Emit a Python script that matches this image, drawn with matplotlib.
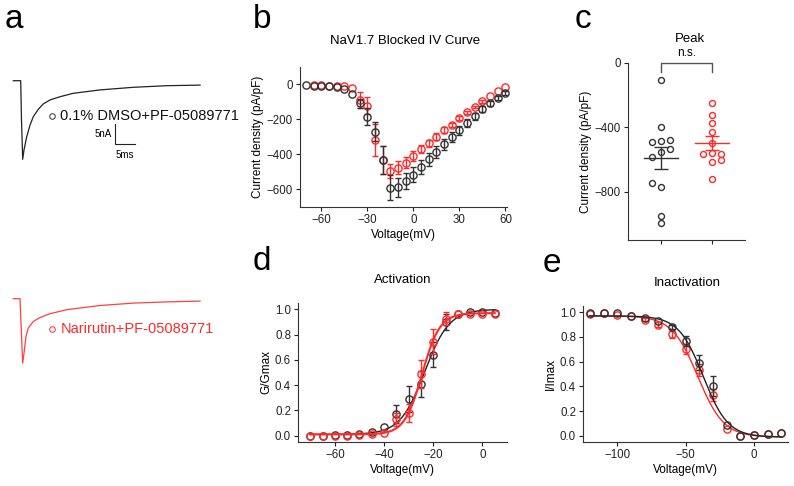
import numpy as np
import matplotlib
matplotlib.use('Agg')
import matplotlib.pyplot as plt

plt.rcParams['font.family'] = ['Liberation Sans', 'DejaVu Sans']
plt.rcParams['axes.linewidth'] = 0.8
plt.rcParams['axes.edgecolor'] = '#333333'

W, H = 794, 486
BLACK = '#333333'
RED = '#ff2a2a'

# ---- panel a: example traces (time ms, current nA)
trace_t_dmso = [0, 1.85, 2.05, 2.35, 2.68, 3.35, 4.18, 5.0, 6.25, 7.5, 9.2, 11.7, 15.0, 21.7, 30.0, 38.35, 46.7]
trace_i_dmso = [0, 0, -9.8, -19.65, -17.3, -14.0, -11.1, -9.0, -7.15, -5.8, -4.8, -4.0, -3.15, -2.3, -1.65, -1.25, -1.1]
trace_t_nar = [0, 1.68, 2.0, 2.35, 2.68, 3.18, 3.75, 5.0, 6.68, 9.2, 13.35, 21.7, 30.0, 38.35, 46.7]
trace_i_nar = [0, 0, -8.0, -16.1, -13.6, -9.4, -7.3, -5.7, -4.7, -3.75, -2.75, -1.7, -1.1, -0.8, -0.6]

# ---- panel b: IV curve (pA/pF)
iv_v = np.arange(-70, 61, 5)
iv_dmso = [-4, -6, -7, -8, -12, -25, -52, -108, -183, -270, -432, -590, -588, -553, -515,
           -470, -428, -385, -342, -300, -262, -220, -182, -142, -108, -77, -50]
iv_dmso_err = [0, 0, 0, 0, 0, 0, 0, 25, 50, 55, 80, 70, 55, 45, 45,
               40, 35, 35, 30, 28, 25, 22, 20, 18, 15, 12, 10]
iv_nar = [np.nan, -4, -4, -6, -6, -6, -19, -90, -121, -317, -433, -496, -475, -446, -410,
          -369, -337, -298, -260, -231, -192, -160, -129, -96, -67, -38, -17]
iv_nar_err = [0, 0, 0, 0, 0, 0, 0, 45, 50, 90, 80, 40, 35, 30, 30,
              25, 20, 18, 15, 12, 10, 10, 8, 8, 0, 0, 0]

# ---- panel c: peak current density per cell
peak_dmso = [-105, -395, -488, -484, -477, -535, -556, -585, -746, -771, -953, -994]
lane_dmso = [0, 0, -1, 0, 1, 1, 0, -1, -1, 0, 0, 0]
peak_nar = [-246, -322, -370, -428, -498, -560, -564, -564, -601, -616, -719]
lane_nar = [0, 0, 0, 0, 0, 0, -1, 1, 1, 0, 0]

# ---- panel d: activation
act_v = np.arange(-70, 6, 5)
act_dmso = [0.0, 0.0, 0.002, 0.005, 0.01, 0.03, 0.07, 0.17, 0.29, 0.41, 0.64, 0.90, 0.96, 0.975, 0.975, 0.97]
act_dmso_err = [0, 0, 0, 0, 0, 0, 0, 0.07, 0.10, 0.10, 0.10, 0.06, 0, 0, 0, 0]
act_nar = [0.0, 0.0, 0.0, 0.0, 0.005, 0.015, 0.025, 0.13, 0.18, 0.49, 0.745, 0.925, 0.96, 0.96, 0.96, 0.96]
act_nar_err = [0, 0, 0, 0, 0, 0, 0, 0.05, 0.07, 0.11, 0.10, 0.05, 0, 0, 0, 0]
act_fit_dmso = dict(bottom=0.01, top=1.0, vhalf=-23.5, k=5.0)
act_fit_nar = dict(bottom=0.01, top=0.97, vhalf=-24.5, k=3.6)

# ---- panel e: inactivation
inact_v = np.arange(-120, 21, 10)
inact_dmso = [0.997, 0.997, 0.99, 0.97, 0.954, 0.93, 0.88, 0.77, 0.59, 0.40, 0.09, 0.0, 0.008, 0.016, 0.02]
inact_dmso_err = [0, 0, 0, 0, 0, 0, 0.02, 0.04, 0.06, 0.08, 0, 0, 0, 0, 0]
inact_nar = [0.987, 0.99, 0.98, 0.97, 0.94, 0.90, 0.82, 0.70, 0.53, 0.33, 0.054, 0.0, 0.008, 0.016, 0.02]
inact_nar_err = [0, 0, 0, 0, 0.015, 0.02, 0.03, 0.04, 0.05, 0.05, 0, 0, 0, 0, 0]
inact_fit_dmso = dict(bottom=-0.01, top=0.97, vhalf=-37.0, k=9.0)
inact_fit_nar = dict(bottom=-0.01, top=0.97, vhalf=-41.0, k=9.5)


def px_axes(fig, left, top, right, bottom):
    return fig.add_axes([left / W, 1 - bottom / H, (right - left) / W, (bottom - top) / H])


def style(ax):
    ax.spines['top'].set_visible(False)
    ax.spines['right'].set_visible(False)
    ax.tick_params(direction='out', length=3, width=0.8, labelsize=8.3, colors='#222222', pad=2)


def iv_series(ax, x, y, err, color, z):
    x = np.asarray(x, float)
    y = np.asarray(y, float)
    err = np.asarray(err, float)
    m = err > 0
    ax.errorbar(x[m], y[m], yerr=err[m], fmt='none', ecolor=color, elinewidth=1,
                capsize=2.5, capthick=1, zorder=z)
    ax.plot(x, y, 'o', ms=5.2, mfc='none', mec=color, mew=1, zorder=z + 0.5, clip_on=False)


fig = plt.figure(figsize=(W / 100, H / 100), dpi=100)

# panel a
ax_a1 = px_axes(fig, 0, 50, 240, 180)
ax_a2 = px_axes(fig, 0, 268, 240, 398)
for ax in (ax_a1, ax_a2):
    ax.set_xlim(-3.325, 56.675)
    ax.set_ylim(-24.825, 7.675)
    ax.axis('off')
ax_a1.plot(trace_t_dmso, trace_i_dmso, color='#222222', lw=0.9)
ax_a2.plot(trace_t_nar, trace_i_nar, color='#ff4040', lw=0.9)
ax_a1.plot(9.7, -8.8, 'o', ms=4, mfc='none', mec='#333333', mew=0.7)
ax_a1.text(11.7, -8.8, '0.1% DMSO+PF-05089771', fontsize=10.5, va='center', ha='left', color='#111111')
ax_a2.plot(9.7, -7.6, 'o', ms=4, mfc='none', mec=RED, mew=0.7)
ax_a2.text(11.9, -7.6, 'Narirutin+PF-05089771', fontsize=10.5, va='center', ha='left', color=RED)
# scale bar 5 nA / 5 ms
ax_a1.plot([25.4, 25.4, 30.4], [-10.8, -15.8, -15.8], color='#222222', lw=0.8)
ax_a1.text(24.6, -13.3, '5nA', fontsize=7, ha='right', va='center')
ax_a1.text(27.9, -17.2, '5ms', fontsize=7, ha='center', va='top')

# panel b
ax_b = px_axes(fig, 300, 67, 507, 207)
style(ax_b)
iv_series(ax_b, iv_v, iv_nar, iv_nar_err, RED, 2)
iv_series(ax_b, iv_v, iv_dmso, iv_dmso_err, BLACK, 3)
ax_b.set_xlim(-74, 61)
ax_b.set_ylim(-700, 100)
ax_b.set_xticks([-60, -30, 0, 30, 60])
ax_b.set_yticks([0, -200, -400, -600])
ax_b.set_xlabel('Voltage(mV)', fontsize=8.5, labelpad=2)
ax_b.set_ylabel('Current density (pA/pF)', fontsize=8.5, labelpad=2)
fig.text(405 / W, 1 - 44 / H, 'NaV1.7 Blocked IV Curve', fontsize=9.5, ha='center', va='baseline')

# panel c
ax_c = px_axes(fig, 628, 63, 745, 240)
style(ax_c)
lane_w = 0.18
for gi, (vals, lanes, col) in enumerate([(peak_dmso, lane_dmso, BLACK), (peak_nar, lane_nar, RED)]):
    vals = np.asarray(vals, float)
    xs = gi + lane_w * np.asarray(lanes, float)
    ax_c.plot(xs, vals, 'o', ms=4.3, mfc='none', mec=col, mew=1, zorder=3, clip_on=False)
    mean = vals.mean()
    sem = vals.std(ddof=1) / np.sqrt(len(vals))
    ax_c.plot([gi - 0.33, gi + 0.33], [mean, mean], color=col, lw=1, zorder=4)
    ax_c.errorbar(gi, mean, yerr=sem, fmt='none', ecolor=col, elinewidth=1,
                  capsize=5, capthick=1, zorder=4)
ax_c.set_xlim(-0.65, 1.65)
ax_c.set_ylim(-1100, 0)
ax_c.set_xticks([0, 1])
ax_c.set_xticklabels([])
ax_c.set_yticks([0, -400, -800])
ax_c.set_ylabel('Current density (pA/pF)', fontsize=8.5, labelpad=2)
bracket_drop = 55
ax_c.plot([0, 0, 1, 1], [-bracket_drop, 0, 0, -bracket_drop], color='#555555', lw=1, clip_on=False)
ax_c.text(0.5, 25, 'n.s.', fontsize=8.5, ha='center', va='bottom')
fig.text(690 / W, 1 - 42 / H, 'Peak', fontsize=9.5, ha='center', va='baseline')


def boltz_act(v, bottom, top, vhalf, k):
    return bottom + (top - bottom) / (1 + np.exp((vhalf - v) / k))


def boltz_inact(v, bottom, top, vhalf, k):
    return bottom + (top - bottom) / (1 + np.exp((v - vhalf) / k))


# panel d
ax_d = px_axes(fig, 298, 303, 507, 442)
style(ax_d)
vv = np.linspace(-70, 5, 300)
ax_d.plot(vv, boltz_act(vv, **act_fit_dmso), color='#222222', lw=1, zorder=2)
iv_series(ax_d, act_v, act_dmso, act_dmso_err, BLACK, 2)
ax_d.plot(vv, boltz_act(vv, **act_fit_nar), color=RED, lw=1.5, zorder=4)
iv_series(ax_d, act_v, act_nar, act_nar_err, RED, 4)
ax_d.set_xlim(-75, 10)
ax_d.set_ylim(-0.05, 1.05)
ax_d.set_xticks([-60, -40, -20, 0])
ax_d.set_yticks([0.0, 0.2, 0.4, 0.6, 0.8, 1.0])
ax_d.yaxis.set_major_formatter(matplotlib.ticker.FormatStrFormatter('%.1f'))
ax_d.set_xlabel('Voltage(mV)', fontsize=8.5, labelpad=2)
ax_d.set_ylabel('G/Gmax', fontsize=8.5, labelpad=2)
fig.text(403 / W, 1 - 283 / H, 'Activation', fontsize=9.5, ha='center', va='baseline')

# panel e
ax_e = px_axes(fig, 583, 306, 788, 442)
style(ax_e)
vv = np.linspace(-120, 20, 300)
ax_e.plot(vv, boltz_inact(vv, **inact_fit_nar), color=RED, lw=1, zorder=2)
iv_series(ax_e, inact_v, inact_nar, inact_nar_err, RED, 2)
ax_e.plot(vv, boltz_inact(vv, **inact_fit_dmso), color='#222222', lw=1, zorder=4)
iv_series(ax_e, inact_v, inact_dmso, inact_dmso_err, BLACK, 4)
ax_e.set_xlim(-125, 25)
ax_e.set_ylim(-0.05, 1.05)
ax_e.set_xticks([-100, -50, 0])
ax_e.set_yticks([0.0, 0.2, 0.4, 0.6, 0.8, 1.0])
ax_e.yaxis.set_major_formatter(matplotlib.ticker.FormatStrFormatter('%.1f'))
ax_e.set_xlabel('Voltage(mV)', fontsize=8.5, labelpad=2)
ax_e.set_ylabel('I/Imax', fontsize=8.5, labelpad=2)
fig.text(687 / W, 1 - 286 / H, 'Inactivation', fontsize=9.5, ha='center', va='baseline')

# panel letters
for lbl, x, y in [('a', 5, 28), ('b', 253, 28), ('c', 575, 28), ('d', 253, 270), ('e', 543, 272)]:
    fig.text(x / W, 1 - y / H, lbl, fontsize=24, ha='left', va='baseline')

fig.savefig('out.png', dpi=100)
